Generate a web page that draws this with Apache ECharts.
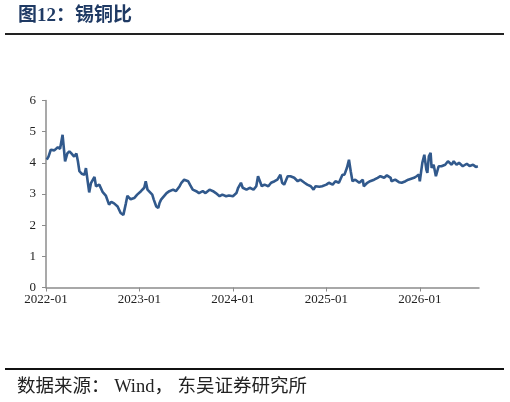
<!DOCTYPE html>
<html>
<head>
<meta charset="utf-8">
<script src="https://cdn.jsdelivr.net/npm/echarts@6/dist/echarts.min.js"></script>
<style>
  html, body { margin: 0; padding: 0; background: #fff; }
  #chart { width: 510px; height: 402px; }
</style>
</head>
<body>
<div id="chart"></div>
<script>
// 锡铜比 读数（日期 / 比值）
const dates = [
  "2022-01-04","2022-01-11","2022-01-20","2022-02-03","2022-02-17","2022-02-26","2022-03-05","2022-03-15",
  "2022-03-24","2022-04-01","2022-04-09","2022-04-20","2022-04-29","2022-05-04","2022-05-10","2022-05-19",
  "2022-05-30","2022-06-05","2022-06-12","2022-06-18","2022-06-25","2022-07-08","2022-07-14","2022-07-27",
  "2022-08-09","2022-08-22","2022-09-04","2022-09-13","2022-09-24","2022-10-07","2022-10-19","2022-10-30",
  "2022-11-09","2022-11-15","2022-11-28","2022-12-11","2022-12-23",
  "2023-01-07","2023-01-20","2023-01-26","2023-02-02","2023-02-08","2023-02-21","2023-02-27","2023-03-06",
  "2023-03-14","2023-03-19","2023-03-25","2023-04-01","2023-04-16","2023-04-27","2023-05-11","2023-05-22",
  "2023-06-06","2023-06-13","2023-06-24","2023-07-09","2023-07-16","2023-07-27","2023-08-10","2023-08-21",
  "2023-09-05","2023-09-16","2023-10-01","2023-10-15","2023-10-26","2023-11-10","2023-11-21","2023-12-05",
  "2023-12-16",
  "2024-01-01","2024-01-15","2024-01-22","2024-02-02","2024-02-09","2024-02-24","2024-03-06","2024-03-21",
  "2024-04-01","2024-04-08","2024-04-15","2024-04-23","2024-05-03","2024-05-18","2024-05-29","2024-06-12",
  "2024-06-23","2024-07-04","2024-07-11","2024-07-19","2024-08-02","2024-08-13","2024-08-28","2024-09-11",
  "2024-09-22","2024-10-07","2024-10-18","2024-11-01","2024-11-12","2024-11-20","2024-12-04","2024-12-15",
  "2025-01-01","2025-01-11","2025-01-26","2025-02-06","2025-02-20","2025-03-03","2025-03-11","2025-03-14",
  "2025-03-21","2025-03-29","2025-04-05","2025-04-12","2025-04-23","2025-05-08","2025-05-22","2025-05-26",
  "2025-06-09","2025-06-20","2025-07-05","2025-07-19","2025-07-30","2025-08-14","2025-08-25","2025-09-09",
  "2025-09-12","2025-09-27","2025-10-11","2025-10-22","2025-11-06","2025-11-17","2025-11-24","2025-12-09",
  "2025-12-19","2025-12-28",
  "2026-01-01","2026-01-11","2026-01-19","2026-01-23","2026-01-27","2026-01-31","2026-02-06","2026-02-13",
  "2026-02-17","2026-02-25","2026-03-03","2026-03-14","2026-03-25","2026-04-09","2026-04-20","2026-05-04",
  "2026-05-12","2026-05-23","2026-06-02","2026-06-17","2026-07-02","2026-07-13","2026-07-27","2026-08-07",
  "2026-08-15"
];
const ratio = [
  4.10,4.20,4.42,4.40,4.50,4.45,4.90,4.05,
  4.30,4.37,4.30,4.20,4.30,4.05,3.73,3.65,
  3.62,3.83,3.40,3.05,3.35,3.55,3.25,3.30,
  3.07,2.95,2.66,2.75,2.70,2.60,2.39,2.33,
  2.70,2.94,2.83,2.87,2.98,
  3.09,3.20,3.41,3.14,3.09,2.98,2.82,2.60,
  2.55,2.71,2.82,2.77,3.03,3.09,3.14,3.09,
  3.25,3.36,3.46,3.41,3.30,3.14,3.09,3.03,
  3.09,3.03,3.14,3.09,3.03,2.93,2.98,2.93,
  2.95,
  2.93,3.03,3.20,3.36,3.20,3.14,3.20,3.14,
  3.25,3.57,3.52,3.25,3.30,3.25,3.36,3.41,
  3.46,3.62,3.36,3.30,3.57,3.57,3.52,3.41,
  3.46,3.36,3.30,3.25,3.14,3.25,3.23,3.25,
  3.30,3.36,3.30,3.41,3.36,3.62,3.62,3.57,
  3.84,4.10,3.73,3.41,3.46,3.36,3.46,3.25,
  3.36,3.41,3.46,3.52,3.57,3.52,3.60,3.52,
  3.41,3.46,3.38,3.36,3.41,3.46,3.46,3.52,
  3.57,3.62,
  3.41,4.00,4.26,4.32,3.78,3.68,4.21,4.32,
  3.84,3.94,3.57,3.89,3.89,3.94,4.05,3.94,
  4.05,3.94,4.00,3.89,3.97,3.90,3.94,3.87,
  3.89
];
const yTicks = [0, 1, 2, 3, 4, 5, 6];
const xStartYear = 2022;
const xEndMonths = 55.6; // axis end, months after 2022-01

// 把日期换成 2022-01 起的月份数
const toMonths = (d) => {
  const [y, m, day] = d.split("-").map(Number);
  return (y - xStartYear) * 12 + (m - 1) + (day - 1) / 31;
};
const seriesData = dates.map((d, i) => [toMonths(d), ratio[i]]);

const serif = "'Liberation Serif', 'Times New Roman', serif";
const chart = echarts.init(document.getElementById("chart"), null, { renderer: "canvas" });

const option = {
  backgroundColor: "#fff",
  animation: false,
  title: {
    text: "图12：锡铜比",
    left: 18,
    top: 7,
    padding: 0,
    textStyle: {
      fontFamily: "'Liberation Serif', 'Noto Sans CJK SC', serif",
      fontSize: 19,
      fontWeight: "bold",
      color: "#1F3A64",
    },
  },
  graphic: [
    {
      type: "line",
      shape: { x1: 5, y1: 34, x2: 504, y2: 34 },
      style: { stroke: "#222", lineWidth: 2 },
    },
    {
      type: "line",
      shape: { x1: 5, y1: 369, x2: 504, y2: 369 },
      style: { stroke: "#111", lineWidth: 2 },
    },
    {
      type: "text",
      left: 17,
      top: 378,
      style: {
        text: "数据来源： Wind， 东吴证券研究所",
        fontFamily: "'Liberation Serif', 'Noto Sans CJK SC', serif",
        fontSize: 18.5,
        fill: "#222",
      },
    },
  ],
  grid: {
    left: 46,
    right: 31,
    top: 100.5,
    bottom: 114.5,
    containLabel: false,
  },
  xAxis: {
    type: "value",
    min: 0,
    max: xEndMonths,
    interval: 12,
    splitLine: { show: false },
    axisLine: { lineStyle: { color: "#8c8c8c", width: 1.5 } },
    axisTick: { show: true, length: 4, inside: false, lineStyle: { color: "#8c8c8c" } },
    axisLabel: {
      color: "#222",
      fontFamily: serif,
      fontSize: 13,
      margin: 6,
      showMaxLabel: false,
      formatter: (v) => (xStartYear + Math.round(v / 12)) + "-01",
    },
  },
  yAxis: {
    type: "value",
    min: yTicks[0],
    max: yTicks[yTicks.length - 1],
    interval: 1,
    splitLine: { show: false },
    axisLine: { show: true, lineStyle: { color: "#8c8c8c", width: 1.5 } },
    axisTick: { show: true, length: 4, lineStyle: { color: "#8c8c8c" } },
    axisLabel: {
      color: "#222",
      fontFamily: serif,
      fontSize: 13,
      margin: 10,
    },
  },
  series: [
    {
      name: "锡铜比",
      type: "line",
      data: seriesData,
      showSymbol: false,
      smooth: false,
      lineStyle: { color: "#31598C", width: 2.6 },
      itemStyle: { color: "#31598C" },
    },
  ],
};

chart.setOption(option);
</script>
</body>
</html>
